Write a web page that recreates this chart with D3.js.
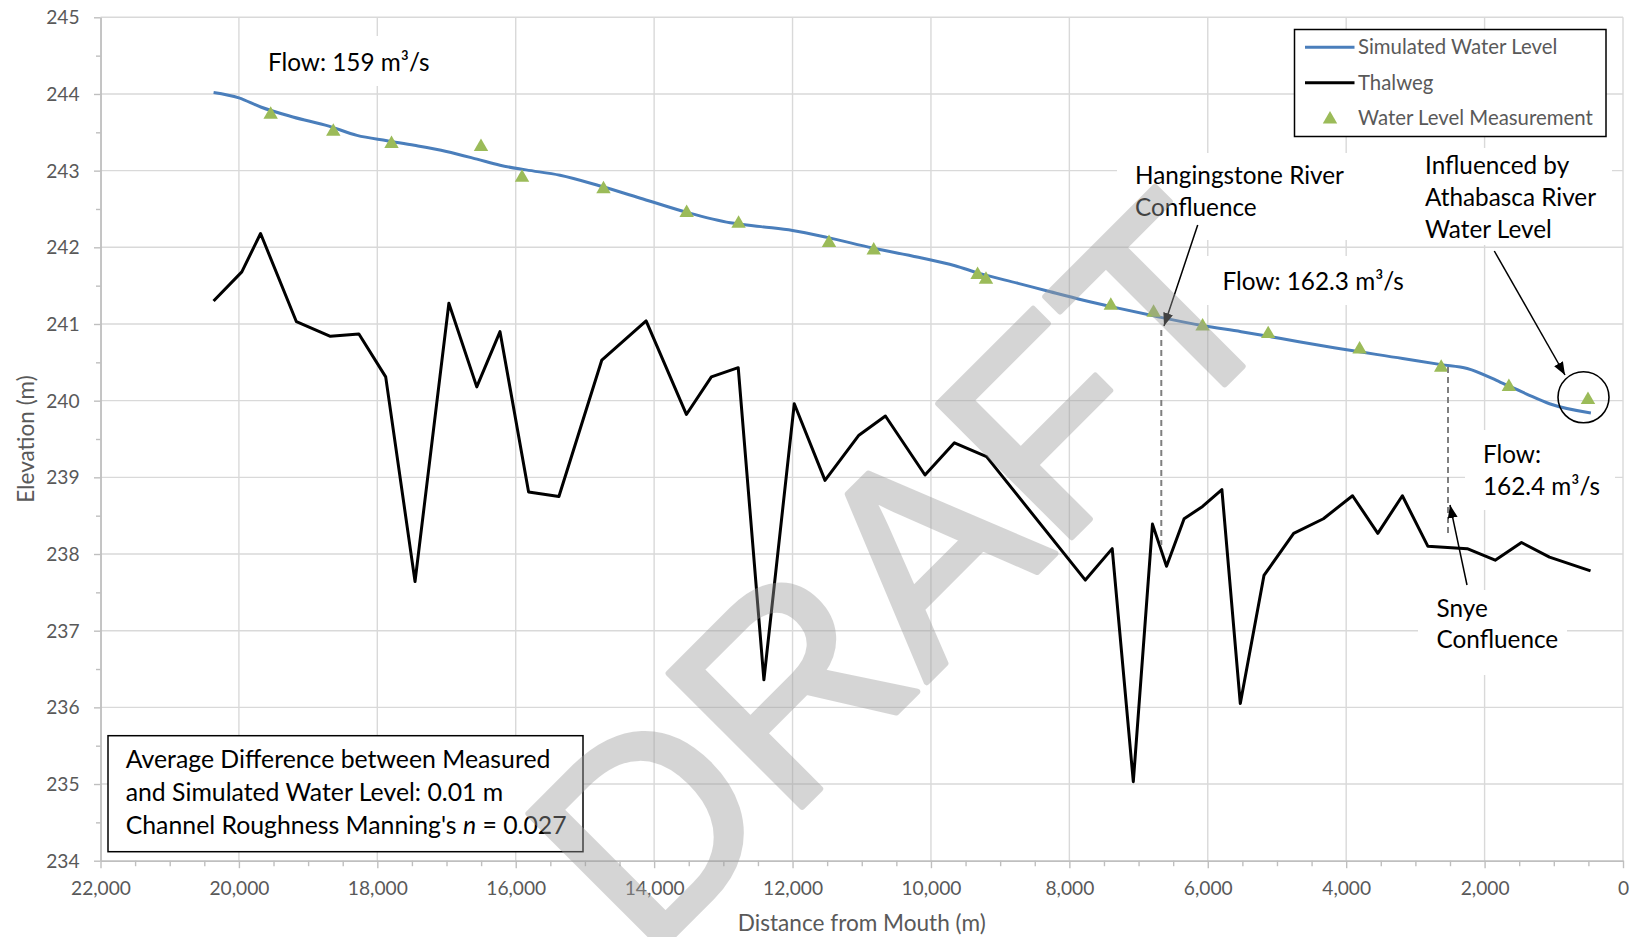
<!DOCTYPE html>
<html>
<head>
<meta charset="utf-8">
<script src="https://cdn.jsdelivr.net/npm/d3@7"></script>
<style>
  html, body { margin: 0; padding: 0; background: #ffffff; }
  svg { display: block; }
</style>
</head>
<body>
<svg id="chart" width="1630" height="937"></svg>
<script>
// ---- Data: distance from mouth (m) and elevation (m) ----
const simulatedDist = [20366, 20000, 19685, 19220, 18700, 18294, 17860, 17466, 17002, 16560,
  16227, 15850, 15360, 14780, 14160, 13506, 12900, 12454, 12000, 11500,
  10842, 10181, 9652, 9301, 8740, 8275, 7796, 7314, 6750, 6082,
  5517, 4941, 4175, 3184, 2628, 2251, 1770, 1400, 1062, 464];
const simulatedElev = [244.02, 243.95, 243.83, 243.70, 243.58, 243.46, 243.39, 243.33, 243.25, 243.15,
  243.07, 243.01, 242.94, 242.80, 242.63, 242.45, 242.32, 242.27, 242.22, 242.13,
  241.99, 241.87, 241.76, 241.66, 241.53, 241.42, 241.31, 241.21, 241.10, 240.98,
  240.90, 240.81, 240.69, 240.55, 240.47, 240.42, 240.24, 240.09, 239.96, 239.84];

const thalwegDist = [20366, 19958, 19687, 19169, 18678, 18266, 17879, 17455, 16966, 16563,
  16227, 15814, 15376, 14756, 14116, 13534, 13173, 12785, 12414, 11975,
  11531, 11041, 10658, 10086, 9661, 9197, 7769, 7381, 7076, 6799,
  6596, 6342, 6075, 5796, 5530, 5188, 4759, 4329, 3908, 3543,
  3188, 2819, 2251, 1847, 1467, 1062, 469];
const thalwegElev = [241.30, 241.68, 242.18, 241.03, 240.84, 240.87, 240.31, 237.64, 241.27, 240.18,
  240.90, 238.81, 238.75, 240.53, 241.04, 239.82, 240.31, 240.43, 236.36, 239.96,
  238.96, 239.55, 239.80, 239.03, 239.45, 239.27, 237.66, 238.07, 235.03, 238.39,
  237.84, 238.46, 238.62, 238.84, 236.05, 237.72, 238.27, 238.46, 238.76, 238.27,
  238.76, 238.10, 238.07, 237.92, 238.15, 237.96, 237.78];

const measuredDist = [19541, 18636, 17795, 16502, 15909, 14732, 13530, 12780, 11473, 10827,
  9326, 9205, 7401, 6783, 6075, 5127, 3806, 2627, 1649, 506];
const measuredElev = [243.73, 243.51, 243.35, 243.31, 242.91, 242.76, 242.45, 242.31, 242.06, 241.96,
  241.64, 241.58, 241.24, 241.15, 240.97, 240.87, 240.67, 240.43, 240.18, 240.01];

const xTicks = [22000, 20000, 18000, 16000, 14000, 12000, 10000, 8000, 6000, 4000, 2000, 0];
const yTicks = [234, 235, 236, 237, 238, 239, 240, 241, 242, 243, 244, 245];

const seriesNames = ["Simulated Water Level", "Thalweg", "Water Level Measurement"];

// ---- Layout ----
const W = 1630, H = 937;
const plot = { left: 100.5, right: 1623, top: 17.3, bottom: 860.7 };
const FONT = "Lato, 'Open Sans', sans-serif";
const BLUE = "#4a7ebb", GREEN = "#9bbb59", GRID = "#d9d9d9", AXIS = "#bfbfbf", LABEL = "#595959";

const measureCtx = document.createElement("canvas").getContext("2d");
function fitFontSize(text, width, family = "Lato", weight = "normal") {
  measureCtx.font = `${weight} 100px ${family}`;
  return 100 * width / measureCtx.measureText(text).width;
}
const annotSize = fitFontSize("Hangingstone River", 209);
const tickSize = fitFontSize("22,000", 60);
const legendSize = fitFontSize("Simulated Water Level", 200);
const titleSize = fitFontSize("Distance from Mouth (m)", 248);
const boxSize = fitFontSize("Average Difference between Measured", 425);

const x = d3.scaleLinear().domain([22000, 0]).range([plot.left, plot.right]);
const y = d3.scaleLinear().domain([234, 245]).range([plot.bottom, plot.top]);

const svg = d3.select("#chart").attr("font-family", FONT);
svg.append("rect").attr("width", W).attr("height", H).attr("fill", "#fff");

// Arrowhead marker
svg.append("defs").append("marker")
  .attr("id", "arrowhead")
  .attr("viewBox", "0 -5 13 10")
  .attr("refX", 13).attr("refY", 0)
  .attr("markerWidth", 13).attr("markerHeight", 10)
  .attr("markerUnits", "userSpaceOnUse")
  .attr("orient", "auto")
  .append("path").attr("d", "M0,-5L13,0L0,5Z").attr("fill", "#000");

// ---- Gridlines ----
const grid = svg.append("g");
grid.selectAll(".hg").data(yTicks.filter(v => v !== 234)).join("line")
  .attr("x1", plot.left).attr("x2", plot.right)
  .attr("y1", d => y(d)).attr("y2", d => y(d))
  .attr("stroke", GRID).attr("stroke-width", 1.4);
grid.selectAll(".vg").data(xTicks.filter(v => v !== 22000)).join("line")
  .attr("x1", d => x(d)).attr("x2", d => x(d))
  .attr("y1", plot.top).attr("y2", plot.bottom)
  .attr("stroke", GRID).attr("stroke-width", 1.4);

// White backgrounds of the annotation text boxes
const noteBoxes = [
  [250, 36, 195, 50],
  [1117, 153, 289, 87],
  [1406, 148, 206, 97],
  [1200, 256, 215, 49],
  [1465, 430, 150, 80],
  [1418, 590, 149, 85]
];
svg.append("g").selectAll("rect").data(noteBoxes).join("rect")
  .attr("x", d => d[0]).attr("y", d => d[1]).attr("width", d => d[2]).attr("height", d => d[3])
  .attr("fill", "#fff");

// ---- Axes ----
function styleAxis(g) {
  g.select(".domain").attr("stroke", AXIS).attr("stroke-width", 1.4);
  g.selectAll(".tick line").attr("stroke", AXIS).attr("stroke-width", 1.4);
  g.selectAll(".tick text").attr("fill", LABEL).attr("font-size", tickSize).attr("font-family", FONT);
}
const yMinor = d3.range(234.5, 245, 1);
const xMinor = d3.range(500, 22000, 500).filter(v => v % 2000 !== 0);

svg.append("g").attr("transform", `translate(${plot.left},0)`)
  .call(d3.axisLeft(y).tickValues(yMinor).tickSize(4.5).tickSizeOuter(0).tickFormat(""))
  .call(styleAxis);
svg.append("g").attr("transform", `translate(${plot.left},0)`)
  .call(d3.axisLeft(y).tickValues(yTicks).tickSize(6.5).tickSizeOuter(0).tickPadding(14.5).tickFormat(d3.format("d")))
  .call(styleAxis)
  .selectAll(".tick text").attr("dy", "0.34em");

svg.append("g").attr("transform", `translate(0,${plot.bottom})`)
  .call(d3.axisBottom(x).tickValues(xMinor).tickSize(5.5).tickSizeOuter(0).tickFormat(""))
  .call(styleAxis);
svg.append("g").attr("transform", `translate(0,${plot.bottom})`)
  .call(d3.axisBottom(x).tickValues(xTicks).tickSize(7.5).tickSizeOuter(0).tickPadding(13).tickFormat(d3.format(",")))
  .call(styleAxis);

// Axis titles
svg.append("text")
  .attr("x", (plot.left + plot.right) / 2).attr("y", 931)
  .attr("text-anchor", "middle").attr("fill", LABEL).attr("font-size", titleSize)
  .text("Distance from Mouth (m)");
svg.append("text")
  .attr("transform", `translate(34,${(plot.top + plot.bottom) / 2}) rotate(-90)`)
  .attr("text-anchor", "middle").attr("fill", LABEL).attr("font-size", titleSize)
  .text("Elevation (m)");

// ---- Series ----
const thalweg = thalwegDist.map((d, i) => [d, thalwegElev[i]]);
const simulated = simulatedDist.map((d, i) => [d, simulatedElev[i]]);
const measured = measuredDist.map((d, i) => [d, measuredElev[i]]);
const line = d3.line().x(d => x(d[0])).y(d => y(d[1]));

svg.append("path").datum(thalweg)
  .attr("d", line).attr("fill", "none").attr("stroke", "#000")
  .attr("stroke-width", 3).attr("stroke-linejoin", "round");
svg.append("path").datum(simulated)
  .attr("d", line.curve(d3.curveMonotoneX)).attr("fill", "none").attr("stroke", BLUE)
  .attr("stroke-width", 3).attr("stroke-linejoin", "round");

const tri = d3.symbol().type(d3.symbolTriangle).size(90);
svg.append("g").selectAll("path").data(measured).join("path")
  .attr("transform", d => `translate(${x(d[0])},${y(d[1])})`)
  .attr("d", tri).attr("fill", GREEN);

// ---- Annotation marks ----
const ann = svg.append("g");
// Confluence locations
ann.append("line").attr("x1", 1161.3).attr("x2", 1161.3).attr("y1", 330).attr("y2", 545)
  .attr("stroke", "#7f7f7f").attr("stroke-width", 2).attr("stroke-dasharray", "6,4");
ann.append("line").attr("x1", 1448).attr("x2", 1448).attr("y1", 367).attr("y2", 536)
  .attr("stroke", "#7f7f7f").attr("stroke-width", 2).attr("stroke-dasharray", "6,4");
// Arrows
[[1197.7, 225, 1164, 326], [1494.3, 251, 1565, 375], [1467, 585, 1450, 505]].forEach(a => {
  ann.append("line").attr("x1", a[0]).attr("y1", a[1]).attr("x2", a[2]).attr("y2", a[3])
    .attr("stroke", "#000").attr("stroke-width", 1.5).attr("marker-end", "url(#arrowhead)");
});
// Circle around the last measurement
ann.append("circle").attr("cx", 1583.5).attr("cy", 397.3).attr("r", 25.5)
  .attr("fill", "none").attr("stroke", "#000").attr("stroke-width", 1.6);

// ---- Annotation text ----
function note(xPos, baselines, lines, size, color = "#000") {
  const t = svg.append("text").attr("font-size", size).attr("fill", color);
  lines.forEach((ln, i) => {
    t.append("tspan").attr("x", xPos).attr("y", baselines[i]).text(ln);
  });
  return t;
}
note(268, [70.5], ["Flow: 159 m³/s"], annotSize);
note(1135, [184, 216], ["Hangingstone River", "Confluence"], annotSize);
note(1425, [173.5, 205.7, 237.7], ["Influenced by", "Athabasca River", "Water Level"], annotSize);
note(1222.5, [290], ["Flow: 162.3 m³/s"], annotSize);
note(1483, [463.3, 495], ["Flow:", "162.4 m³/s"], annotSize);
note(1436.5, [616.5, 648.3], ["Snye", "Confluence"], annotSize);

// Statistics box
svg.append("rect").attr("x", 108).attr("y", 735.7).attr("width", 475).attr("height", 116)
  .attr("fill", "#fff").attr("stroke", "#000").attr("stroke-width", 1.5);
const stats = svg.append("text").attr("font-size", boxSize).attr("fill", "#000");
stats.append("tspan").attr("x", 125.7).attr("y", 768.3).text("Average Difference between Measured");
stats.append("tspan").attr("x", 125.7).attr("y", 801.3).text("and Simulated Water Level: 0.01 m");
const l3 = stats.append("tspan").attr("x", 125.7).attr("y", 833.6);
l3.append("tspan").text("Channel Roughness Manning's ");
l3.append("tspan").attr("font-style", "italic").text("n");
l3.append("tspan").text(" = 0.027");

// ---- Legend ----
const legend = svg.append("g");
legend.append("rect").attr("x", 1294.5).attr("y", 29.5).attr("width", 311.5).attr("height", 107)
  .attr("fill", "#fff").attr("stroke", "#000").attr("stroke-width", 1.5);
const rowsY = [47.3, 82.7, 118.3];
legend.append("line").attr("x1", 1305).attr("x2", 1354.5).attr("y1", rowsY[0]).attr("y2", rowsY[0])
  .attr("stroke", BLUE).attr("stroke-width", 3);
legend.append("line").attr("x1", 1305).attr("x2", 1354.5).attr("y1", rowsY[1]).attr("y2", rowsY[1])
  .attr("stroke", "#000").attr("stroke-width", 3);
legend.append("path").attr("transform", `translate(1330,${rowsY[2] + 1})`).attr("d", tri).attr("fill", GREEN);
seriesNames.forEach((name, i) => {
  legend.append("text").attr("x", 1358).attr("y", rowsY[i]).attr("dy", "0.35em")
    .attr("font-size", legendSize).attr("fill", LABEL).text(name);
});

// ---- Watermark ----
const wmSize = fitFontSize("DRAFT", 915, "Liberation Sans");
svg.append("g").attr("opacity", 0.42)
  .append("text")
  .attr("transform", "translate(900,570) rotate(-45)")
  .attr("text-anchor", "middle").attr("dy", "0.358em")
  .attr("font-family", "'Liberation Sans', Arial, sans-serif")
  .attr("font-size", wmSize)
  .attr("fill", "#9d9d9d").attr("stroke", "#9d9d9d").attr("stroke-width", 6)
  .attr("stroke-linejoin", "round")
  .text("DRAFT");
</script>
</body>
</html>
